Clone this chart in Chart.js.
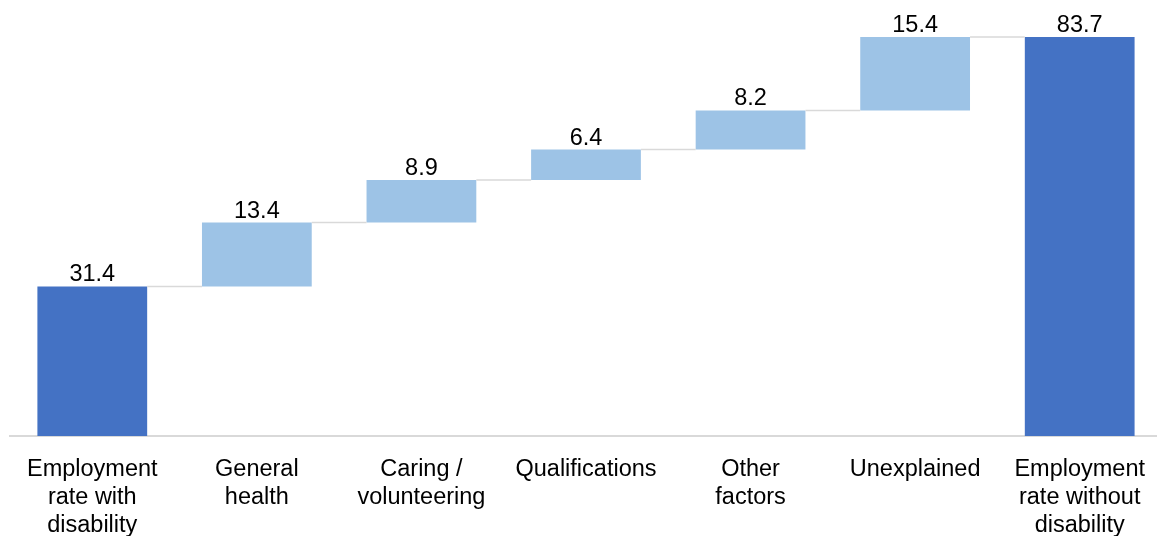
<!DOCTYPE html>
<html>
<head>
<meta charset="utf-8">
<script src="https://cdn.jsdelivr.net/npm/chart.js@4/dist/chart.umd.min.js"></script>
<style>
  html, body { margin: 0; padding: 0; background: #fff; }
  #wrap { width: 1157px; height: 536px; overflow: hidden; position: relative; }
  #wrap canvas { display: block; }
</style>
</head>
<body>
<div id="wrap"><canvas id="c" width="1164" height="558"></canvas></div>
<script>
// Categories of the employment-rate gap decomposition
const categories = [
  ["Employment", "rate with", "disability"],
  ["General", "health"],
  ["Caring /", "volunteering"],
  ["Qualifications"],
  ["Other", "factors"],
  ["Unexplained"],
  ["Employment", "rate without", "disability"]
];
// Step values: first and last are totals, the rest are increments
const stepValues = [31.4, 13.4, 8.9, 6.4, 8.2, 15.4, 83.7];
const isTotal = [true, false, false, false, false, false, true];

const totalColor = '#4472C4';
const stepColor = '#9DC3E6';
const connectorColor = '#D9D9D9';

// Floating [start, end] ranges for the waterfall
const ranges = [];
let running = 0;
stepValues.forEach((v, i) => {
  if (isTotal[i]) {
    ranges.push([0, v]);
    running = v;
  } else {
    ranges.push([running, running + v]);
    running += v;
  }
});

// Connectors between neighbouring bars and value labels above each bar
const waterfallDecor = {
  id: 'waterfallDecor',
  afterDatasetsDraw(chart) {
    const ctx = chart.ctx;
    const meta = chart.getDatasetMeta(0);
    const y = chart.scales.y;
    ctx.save();
    ctx.strokeStyle = connectorColor;
    ctx.lineWidth = 1.5;
    for (let i = 0; i < meta.data.length - 1; i++) {
      const a = meta.data[i], b = meta.data[i + 1];
      const level = y.getPixelForValue(ranges[i][1]);
      ctx.beginPath();
      ctx.moveTo(a.x + a.width / 2, level);
      ctx.lineTo(b.x - b.width / 2, level);
      ctx.stroke();
    }
    ctx.fillStyle = '#000';
    ctx.font = '23.5px "Liberation Sans", Arial, sans-serif';
    ctx.textAlign = 'center';
    ctx.textBaseline = 'alphabetic';
    meta.data.forEach((bar, i) => {
      const top = y.getPixelForValue(ranges[i][1]);
      ctx.fillText(stepValues[i].toFixed(1), bar.x, top - 5);
    });
    ctx.restore();
  }
};

new Chart(document.getElementById('c'), {
  type: 'bar',
  data: {
    labels: categories,
    datasets: [{
      data: ranges,
      backgroundColor: isTotal.map(t => t ? totalColor : stepColor),
      borderWidth: 0,
      categoryPercentage: 1,
      barPercentage: 0.667
    }]
  },
  options: {
    responsive: false,
    animation: false,
    layout: { padding: { left: 10, right: 0, top: 7, bottom: 0 } },
    plugins: { legend: { display: false }, tooltip: { enabled: false } },
    scales: {
      x: {
        grid: { display: false, drawTicks: false },
        border: { display: true, color: connectorColor, width: 2 },
        ticks: {
          color: '#000',
          padding: 19,
          maxRotation: 0,
          autoSkip: false,
          font: { family: '"Liberation Sans", Arial, sans-serif', size: 23.5, lineHeight: 1.19 }
        }
      },
      y: {
        display: false,
        min: 0,
        max: 90
      }
    }
  },
  plugins: [waterfallDecor]
});
</script>
</body>
</html>
